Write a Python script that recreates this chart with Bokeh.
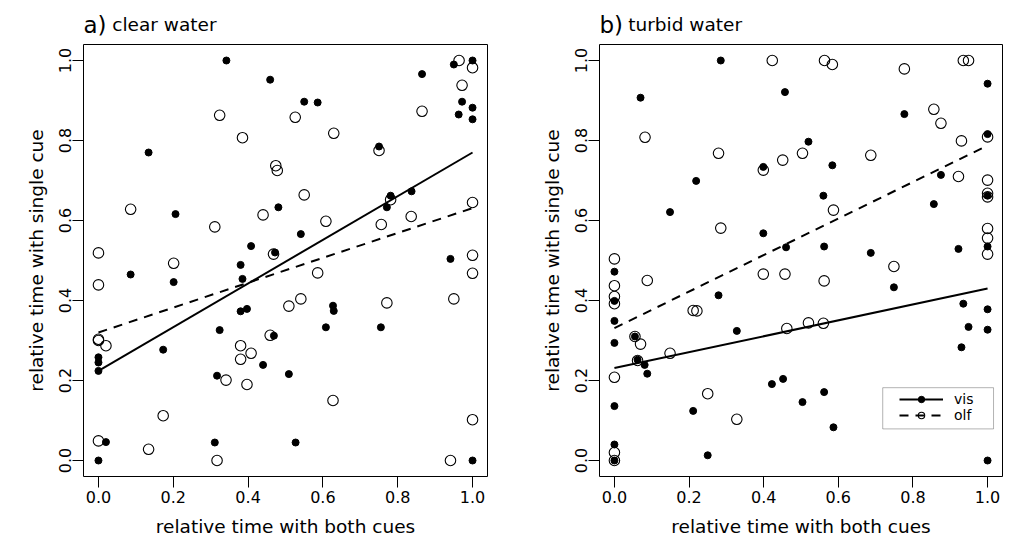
from bokeh.plotting import figure
from bokeh.models import FixedTicker, Legend, LegendItem, BoxAnnotation, Range1d
from bokeh.layouts import row, column
from bokeh.embed import file_html
from bokeh.resources import INLINE
from bokeh.core.properties import value

FONT = "DejaVu Sans"

tick_values = [0.0, 0.2, 0.4, 0.6, 0.8, 1.0]
tick_labels = ["0.0", "0.2", "0.4", "0.6", "0.8", "1.0"]
x_title = "relative time with both cues"
y_title = "relative time with single cue"
panel_letters = ["a)", "b)"]
panel_names = ["clear water", "turbid water"]
series_names = ["vis", "olf"]

# ---- a) clear water ----
clear_vis_x = [0.342, 0.459, 0.134, 0.206, 0.481, 0.408, 0.472, 0.550, 0.586, 0.750,
               0.865, 0.950, 1.0, 0.972, 1.0, 0.963, 1.0, 0.781, 0.771, 0.837,
               0.541, 0.941, 0.380, 0.086, 0.201, 0.385, 0.380, 0.397, 0.324, 0.0,
               0.0, 0.0, 0.173, 0.440, 0.469, 0.317, 0.020, 0.311, 0.0, 0.627,
               0.629, 0.608, 0.755, 0.509, 0.527, 1.0]
clear_vis_y = [1.0, 0.952, 0.770, 0.616, 0.633, 0.536, 0.520, 0.897, 0.895, 0.785,
               0.966, 0.990, 1.0, 0.897, 0.882, 0.865, 0.853, 0.662, 0.633, 0.673,
               0.566, 0.504, 0.489, 0.465, 0.446, 0.454, 0.373, 0.379, 0.326, 0.258,
               0.245, 0.224, 0.277, 0.239, 0.312, 0.212, 0.046, 0.045, 0.0, 0.387,
               0.374, 0.333, 0.333, 0.216, 0.045, 0.0]
clear_olf_x = [0.324, 0.385, 0.474, 0.478, 0.086, 0.440, 0.311, 0.468, 0.0, 0.201,
               0.526, 0.629, 0.750, 0.865, 0.964, 1.0, 0.972, 0.550, 0.781, 1.0,
               0.608, 0.836, 0.756, 1.0, 0.0, 0.0, 0.0, 0.020, 0.380, 0.380,
               0.408, 0.459, 0.341, 0.397, 0.173, 0.0, 0.134, 0.317, 1.0, 0.586,
               0.509, 0.541, 0.771, 0.950, 0.627, 1.0, 0.941]
clear_olf_y = [0.863, 0.807, 0.737, 0.725, 0.628, 0.614, 0.584, 0.516, 0.519, 0.493,
               0.858, 0.818, 0.775, 0.873, 1.0, 0.982, 0.938, 0.664, 0.652, 0.645,
               0.598, 0.610, 0.590, 0.513, 0.439, 0.303, 0.300, 0.287, 0.287, 0.253,
               0.268, 0.313, 0.201, 0.190, 0.112, 0.049, 0.028, 0.0, 0.468, 0.469,
               0.386, 0.404, 0.394, 0.404, 0.150, 0.102, 0.0]
clear_fit_intercept = [0.224, 0.320]   # vis, olf
clear_fit_slope = [0.546, 0.311]

# ---- b) turbid water ----
turbid_vis_x = [0.285, 0.070, 0.219, 0.399, 0.149, 0.399, 1.0, 0.457, 0.777, 1.0,
                0.520, 0.584, 0.875, 1.0, 0.560, 0.856, 1.0, 0.460, 0.562, 0.687,
                0.922, 0.0, 0.0, 0.0, 0.0, 0.0, 0.0, 0.0, 0.279, 0.328,
                0.055, 0.062, 0.081, 0.088, 0.211, 0.250, 0.422, 0.749, 0.935, 1.0,
                0.949, 1.0, 0.930, 0.452, 0.504, 0.562, 0.587, 1.0]
turbid_vis_y = [1.0, 0.907, 0.699, 0.734, 0.621, 0.568, 0.942, 0.921, 0.866, 0.816,
                0.797, 0.738, 0.714, 0.662, 0.662, 0.641, 0.535, 0.533, 0.535, 0.519,
                0.529, 0.472, 0.399, 0.349, 0.294, 0.136, 0.040, 0.0, 0.413, 0.324,
                0.310, 0.252, 0.239, 0.217, 0.124, 0.013, 0.191, 0.433, 0.392, 0.378,
                0.334, 0.327, 0.283, 0.204, 0.146, 0.171, 0.083, 0.0]
turbid_olf_x = [0.423, 0.082, 0.279, 0.399, 0.285, 0.0, 0.563, 0.584, 0.777, 0.935,
                0.949, 0.856, 0.875, 1.0, 0.930, 0.504, 0.451, 0.687, 0.922, 1.0,
                1.0, 1.0, 0.587, 1.0, 1.0, 1.0, 0.0, 0.0, 0.0, 0.0,
                0.0, 0.0, 0.088, 0.399, 0.211, 0.221, 0.055, 0.070, 0.149, 0.062,
                0.250, 0.328, 0.457, 0.562, 0.749, 0.462, 0.520, 0.560]
turbid_olf_y = [1.0, 0.808, 0.768, 0.726, 0.581, 0.504, 1.0, 0.990, 0.979, 1.0,
                1.0, 0.878, 0.843, 0.809, 0.799, 0.768, 0.751, 0.763, 0.710, 0.701,
                0.668, 0.659, 0.626, 0.580, 0.556, 0.516, 0.437, 0.410, 0.392, 0.208,
                0.020, 0.0, 0.450, 0.466, 0.375, 0.374, 0.310, 0.291, 0.268, 0.250,
                0.167, 0.103, 0.466, 0.449, 0.485, 0.330, 0.344, 0.343]
turbid_fit_intercept = [0.231, 0.331]  # vis, olf
turbid_fit_slope = [0.199, 0.4565]

fit_x = [0.0, 1.0]


def make_header(idx, border_left, border_right, frame_w):
    # thin figure, aligned with the panel below, that carries the panel heading
    h = figure(frame_width=frame_w, frame_height=44,
               min_border_left=border_left, min_border_right=border_right,
               min_border_top=0, min_border_bottom=0,
               x_range=Range1d(-0.04, 1.04), y_range=Range1d(0, 44),
               x_axis_location=None, y_axis_location=None,
               output_backend="svg", toolbar_location=None)
    h.outline_line_color = None
    h.grid.visible = False
    h.background_fill_color = "white"
    h.border_fill_color = "white"
    h.text(x=[-0.040], y=[20], text=[panel_letters[idx]],
           text_font=value(FONT), text_font_size="23px",
           text_baseline="alphabetic", text_align="left", text_color="black")
    h.text(x=[0.037], y=[20], text=[panel_names[idx]],
           text_font=value(FONT), text_font_size="18.5px",
           text_baseline="alphabetic", text_align="left", text_color="black")
    return h


def make_panel(idx, vis_x, vis_y, olf_x, olf_y, fit_int, fit_slope,
               border_left, border_right, frame_w, with_legend):
    p = figure(frame_width=frame_w, frame_height=432,
               min_border_left=border_left, min_border_right=border_right,
               min_border_top=0, min_border_bottom=70,
               x_range=Range1d(-0.04, 1.04), y_range=Range1d(-0.04, 1.04),
               output_backend="svg", toolbar_location=None)
    p.background_fill_color = "white"
    p.border_fill_color = "white"
    p.outline_line_color = "black"
    p.outline_line_width = 1
    p.grid.visible = False

    for ax in (p.xaxis[0], p.yaxis[0]):
        ax.ticker = FixedTicker(ticks=tick_values)
        ax.major_label_overrides = {v: s for v, s in zip(tick_values, tick_labels)}
        ax.axis_line_color = None
        ax.major_tick_out = 11
        ax.major_tick_in = 0
        ax.major_tick_line_color = "black"
        ax.minor_tick_line_color = None
        ax.major_label_text_font = FONT
        ax.major_label_text_font_size = "16px"
        ax.major_label_text_color = "black"
        ax.axis_label_text_font = FONT
        ax.axis_label_text_font_size = "18.5px"
        ax.axis_label_text_font_style = "normal"
        ax.axis_label_text_color = "black"
    p.xaxis[0].axis_label = x_title
    p.yaxis[0].axis_label = y_title
    p.xaxis[0].major_label_standoff = 3
    p.xaxis[0].axis_label_standoff = 10
    p.yaxis[0].major_label_standoff = 2
    p.yaxis[0].axis_label_standoff = 9
    p.yaxis[0].major_label_orientation = "vertical"

    # fitted lines
    vis_line = p.line(fit_x, [fit_int[0] + fit_slope[0] * v for v in fit_x],
                      line_color="black", line_width=2)
    olf_line = p.line(fit_x, [fit_int[1] + fit_slope[1] * v for v in fit_x],
                      line_color="black", line_width=2, line_dash="9 7")

    vis_pts = p.scatter(vis_x, vis_y, marker="circle", size=7,
                        fill_color="black", line_color="black", line_width=1)
    olf_pts = p.scatter(olf_x, olf_y, marker="circle", size=10.5,
                        fill_color=None, line_color="black", line_width=1.1)

    if with_legend:
        p.add_layout(BoxAnnotation(left=0.719, right=1.016, bottom=0.079, top=0.182,
                                   fill_color="white", fill_alpha=1.0,
                                   line_color="black", line_width=1))
        legend = Legend(items=[LegendItem(label=series_names[0], renderers=[vis_line, vis_pts]),
                               LegendItem(label=series_names[1], renderers=[olf_line, olf_pts])],
                        location=(300, 53), padding=0, margin=0, spacing=-3,
                        glyph_width=44, glyph_height=16, label_height=14,
                        label_standoff=11, label_text_font=FONT,
                        label_text_font_size="14px", label_text_color="black",
                        background_fill_alpha=0, border_line_color=None)
        p.add_layout(legend)
    return p


p1 = make_panel(0, clear_vis_x, clear_vis_y, clear_olf_x, clear_olf_y,
                clear_fit_intercept, clear_fit_slope, 83, 21, 404, False)
p2 = make_panel(1, turbid_vis_x, turbid_vis_y, turbid_olf_x, turbid_olf_y,
                turbid_fit_intercept, turbid_fit_slope, 91, 12, 403, True)
h1 = make_header(0, 83, 21, 404)
h2 = make_header(1, 91, 12, 403)

layout = row(column(h1, p1), column(h2, p2))
open("out.html", "w").write(file_html(layout, INLINE))
